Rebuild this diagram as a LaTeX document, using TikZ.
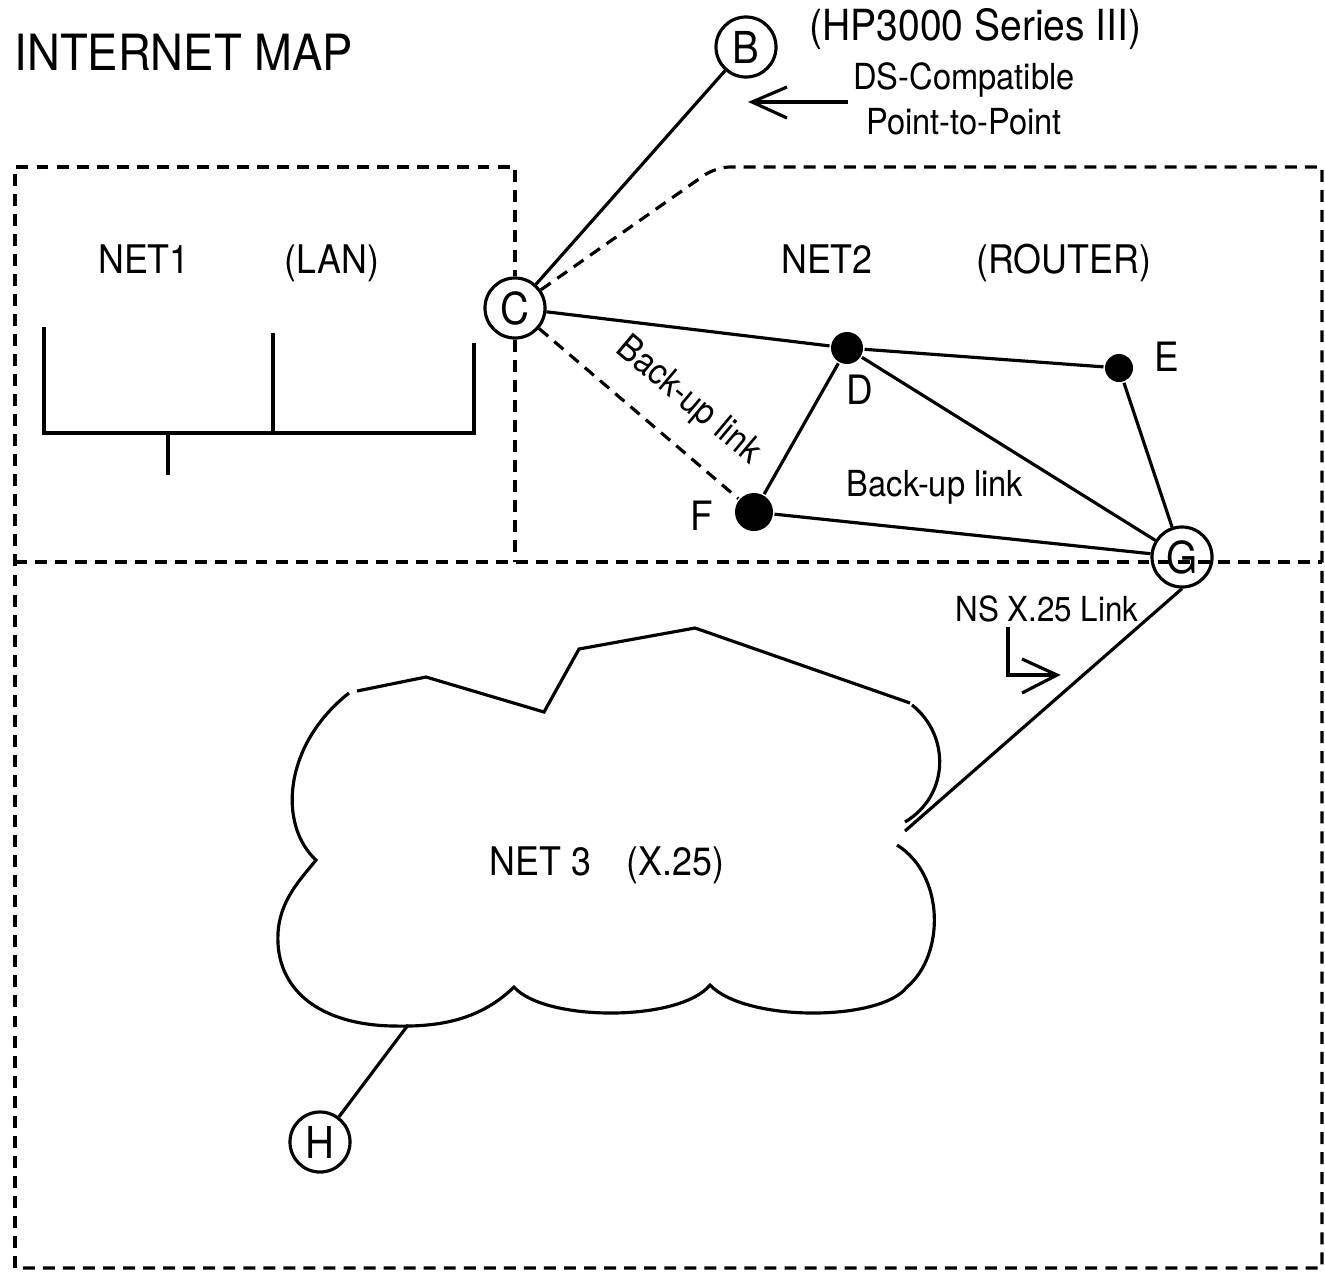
\documentclass[tikz,border=0pt]{standalone}
\usepackage{fontspec}
\setmainfont[FakeStretch=0.91]{TeX Gyre Heros}
\begin{document}
\begin{tikzpicture}[x=0.01cm,y=-0.01cm,line width=0.9pt,
  dashline/.style={dash pattern=on 3.4pt off 2.3pt},
  host/.style={circle,draw,minimum size=0.6cm,inner sep=0pt,font=\fontsize{12.5}{14}\selectfont},
  dot/.style={circle,fill,inner sep=0pt},
  lbl/.style={inner sep=0pt,anchor=base},
  netlbl/.style={lbl,font=\fontsize{11.2}{13}\selectfont},
  ptlbl/.style={lbl,font=\fontsize{11.5}{13}\selectfont},
  smalllbl/.style={lbl,font=\fontsize{10.2}{12}\selectfont}]
\useasboundingbox (0,0) rectangle (1325,1272);

% title and annotations
\node[lbl,anchor=base west,font=\fontsize{14.2}{16}\selectfont] (title) at (13,70) {INTERNET MAP};
\node[lbl,anchor=base west,font=\fontsize{12.2}{14}\selectfont] (hp) at (808,40) {(HP3000 Series III)};
\node[smalllbl] (ds) at (964,89) {DS-Compatible};
\node[smalllbl] (ptp) at (964,134) {Point-to-Point};

% hosts
\node[host] (B) at (746,47) {B};
\node[host] (C) at (515,308) {C};
\node[host] (G) at (1182,557) {G};
\node[host] (H) at (320,1142) {H};
\node[dot,minimum size=0.32cm] (D) at (847,348) {};
\node[dot,minimum size=0.28cm] (E) at (1119,368) {};
\node[dot,minimum size=0.38cm] (F) at (754,512) {};
\node[ptlbl] (Dl) at (860,404) {D};
\node[ptlbl] (El) at (1167,371) {E};
\node[ptlbl] (Fl) at (702,530) {F};

% network labels
\node[netlbl] (net1) at (144,273) {NET1};
\node[netlbl] (lan) at (332,273) {(LAN)};
\node[netlbl] (net2) at (827,273) {NET2};
\node[netlbl] (router) at (1064,273) {(ROUTER)};
\node[netlbl] (net3) at (607,875) {NET 3\hspace{0.9em}(X.25)};
\node[smalllbl] (bu2) at (935,496) {Back-up link};
\node[lbl,font=\fontsize{9.8}{12}\selectfont] (ns) at (1047,621) {NS X.25 Link};
\node[inner sep=0pt,rotate=-40,font=\fontsize{10.2}{12}\selectfont] (bu1) at (688,401) {Back-up link};

% dashed region borders
\draw[dashline] (15,1268) -- (15,167) -- (515,167) -- (C);
\draw[dashline] (C) -- (515,562);
\draw[dashline] (C) [rounded corners=4pt] -- (716,167) [sharp corners] -- (1322,167) -- (1322,1268) -- (15,1268);
\draw[dashline] (15,562) -- (1322,562);

% links
\draw (B) -- (C);
\draw (C) -- (D);
\draw (D) -- (E);
\draw (D) -- (F);
\draw (D) -- (G);
\draw (E) -- (G);
\draw (F) -- (G);
\draw[dashline] (C) -- (F);

% annotation arrows
\coordinate (a1) at (848,102);
\coordinate (a2) at (752,102);
\draw (a1) -- (a2);
\draw (787,87) -- (a2) -- (787,118);
\coordinate (n1) at (1008,627);
\coordinate (n2) at (1057,675);
\draw (n1) -- (1008,675) -- (n2);
\draw (1022,659) -- (n2) -- (1022,693);

% LAN bus
\draw (44,327) -- (44,433) -- (474,433) -- (474,343);
\draw (273,333) -- (273,433);
\draw (168,433) -- (168,475);

% cloud
\draw (357,691) -- (426,677) -- (544,712) -- (579,649) -- (695,628) -- (910,703);
\draw (912,705) .. controls (950,735) and (950,795) .. (905,822);
\draw (897,845) .. controls (945,875) and (945,955) .. (907,987)
  .. controls (880,1022) and (745,1022) .. (710,985)
  .. controls (680,1022) and (545,1022) .. (514,987)
  .. controls (480,1020) and (440,1027) .. (394,1026)
  .. controls (320,1025) and (275,990) .. (278,933)
  .. controls (280,900) and (300,880) .. (316,860)
  .. controls (278,825) and (283,745) .. (349,693);
\coordinate (gc) at (905,831);
\coordinate (hc) at (408,1025);
\draw (G.south) -- (gc);
\draw (H) -- (hc);
\end{tikzpicture}
\end{document}
